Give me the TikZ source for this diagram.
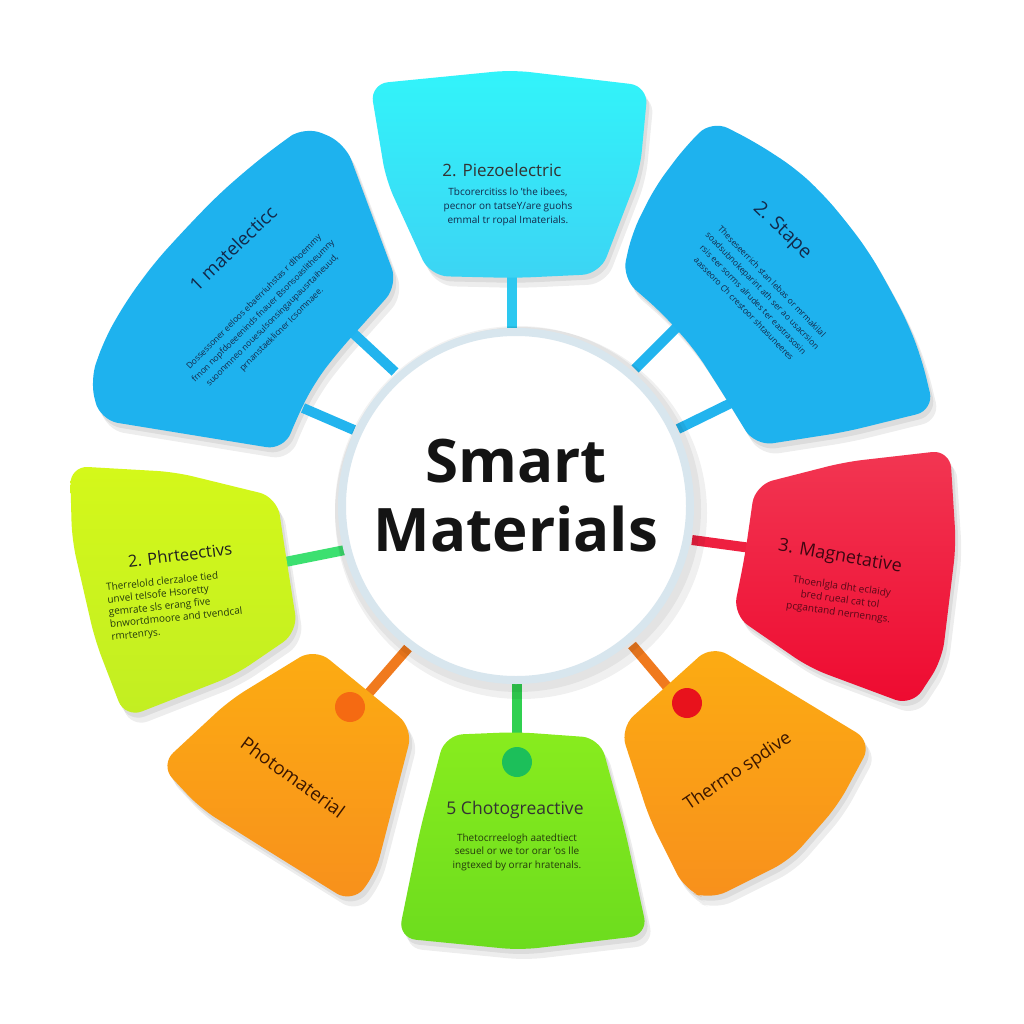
\documentclass[tikz,border=0pt]{standalone}
\usepackage{fontspec}
\setmainfont{Open Sans}
\definecolor{segblue}{HTML}{1EB2EE}
\definecolor{cyanT}{HTML}{32F4FA}
\definecolor{cyanB}{HTML}{3CD4F4}
\definecolor{limeT}{HTML}{D4F81A}
\definecolor{limeB}{HTML}{C2EE22}
\definecolor{redT}{HTML}{F23652}
\definecolor{redB}{HTML}{EE0A30}
\definecolor{orT}{HTML}{FCAC12}
\definecolor{orB}{HTML}{F8901C}
\definecolor{grT}{HTML}{88EC1E}
\definecolor{grB}{HTML}{6CDC1E}
\definecolor{hubring}{HTML}{D8E6EE}
\definecolor{barblue}{HTML}{22B4EE}
\definecolor{barcyan}{HTML}{2CC8F0}
\definecolor{bargreen}{HTML}{3CE070}
\definecolor{barred}{HTML}{EE2040}
\definecolor{barorange}{HTML}{F07A1E}
\definecolor{bargreenb}{HTML}{30D050}
\definecolor{dotor}{HTML}{F56A12}
\definecolor{dotgr}{HTML}{1CBF5A}
\definecolor{dotred}{HTML}{E8121C}
\definecolor{navy}{HTML}{13294A}
\definecolor{dkgreen}{HTML}{243A0C}
\definecolor{dkred}{HTML}{5A0818}
\definecolor{dkbrown}{HTML}{3A1600}
\tikzset{
  seg/.style={rounded corners=18pt},
  shad/.style={fill=black,opacity=0.07,rounded corners=18pt},
  bar/.style={line width=10pt},
  ttl/.style={inner sep=0pt,font=\fontsize{17}{20}\selectfont,text=black!88},
  bodytxt/.style={inner sep=0pt,align=center,font=\fontsize{9.5}{13}\selectfont},
}
\def\Apath{(100,420) -- (90,380) -- (105,338) -- (127,300) -- (155,262) -- (187,227) -- (218,195) -- (250,167) -- (278,145) -- (305,126) -- (345,143) -- (398,285) -- (365,322) -- (338,352) -- (315,382) -- (298,415) -- (284,450) -- cycle}
\def\Bpath{(370,84) -- (512,70) -- (648,86) -- (640,170) -- (600,274) -- (515,278) -- (430,276) -- (386,180) -- cycle}
\def\Cpath{(712,120) -- (755,142) -- (795,168) -- (822,193) -- (845,220) -- (869,252) -- (889,287) -- (908,323) -- (922,360) -- (934,410) -- (845,432) -- (755,446) -- (725,397) -- (695,350) -- (662,313) -- (622,278) -- (632,233) -- (655,187) -- (685,147) -- cycle}
\def\Dpath{(70,466) -- (175,472) -- (277,497) -- (285,550) -- (298,632) -- (235,675) -- (125,718) -- (95,640) -- (72,540) -- cycle}
\def\Epath{(755,485) -- (845,462) -- (950,450) -- (956,545) -- (942,660) -- (912,706) -- (810,668) -- (733,615) -- (745,555) -- cycle}
\def\Fpath{(315,648) -- (413,728) -- (375,875) -- (352,903) -- (270,852) -- (200,808) -- (160,765) -- (230,700) -- cycle}
\def\Gpath{(445,735) -- (517,732) -- (600,738) -- (625,830) -- (648,935) -- (520,950) -- (398,938) -- (420,830) -- cycle}
\def\Hpath{(620,728) -- (712,645) -- (872,742) -- (838,805) -- (790,860) -- (710,900) -- (685,890) -- (650,820) -- cycle}
\begin{document}
\begin{tikzpicture}[x=1pt,y=-1pt]
\useasboundingbox (0,0) rectangle (1024,1024);
\fill[white] (0,0) rectangle (1024,1024);
% shadows
\foreach \p in {\Apath,\Bpath,\Cpath,\Dpath,\Epath,\Fpath,\Gpath,\Hpath}{
  \fill[shad,shift={(3,5)}] \p;
  \fill[shad,shift={(6,10)}] \p;
}
% connector coordinates
\coordinate (a1s) at (353,333); \coordinate (a1e) at (395,372);
\coordinate (a2s) at (303,408); \coordinate (a2e) at (354,430);
\coordinate (bs) at (512,268); \coordinate (be) at (512,335);
\coordinate (c1s) at (635,369); \coordinate (c1e) at (677,327);
\coordinate (c2s) at (678,429); \coordinate (c2e) at (731,403);
\coordinate (ds) at (285,562); \coordinate (de) at (345,550);
\coordinate (es) at (692,540); \coordinate (ee) at (751,548);
\coordinate (fs) at (368,694); \coordinate (fe) at (408,648);
\coordinate (gs) at (517,680); \coordinate (ge) at (517,755);
\coordinate (hs) at (632,645); \coordinate (he) at (670,690);
\draw[bar,barblue] (a1s) -- (a1e);
\draw[bar,barblue] (a2s) -- (a2e);
\draw[bar,barcyan] (bs) -- (be);
\draw[bar,barblue] (c1s) -- (c1e);
\draw[bar,barblue] (c2s) -- (c2e);
\draw[bar,bargreen] (ds) -- (de);
\draw[bar,barred] (es) -- (ee);
\draw[bar,barorange] (fs) -- (fe);
\draw[bar,bargreenb] (gs) -- (ge);
\draw[bar,barorange] (hs) -- (he);
% segments
\fill[seg,segblue] \Apath;
\shade[seg,top color=cyanT,bottom color=cyanB] \Bpath;
\fill[seg,segblue] \Cpath;
\shade[seg,top color=limeT,bottom color=limeB] \Dpath;
\shade[seg,top color=redT,bottom color=redB] \Epath;
\shade[seg,top color=orT,bottom color=orB] \Fpath;
\shade[seg,top color=grT,bottom color=grB] \Gpath;
\shade[seg,top color=orT,bottom color=orB] \Hpath;
% dots
\fill[dotor] (350,707) circle[radius=15pt];
\fill[dotgr] (517,762) circle[radius=15pt];
\fill[dotred] (687,703) circle[radius=15pt];
% hub
\fill[black,opacity=0.06] (521,513) circle[radius=186pt];
\fill[black,opacity=0.05] (518,509) circle[radius=183pt];
\node (hub) [circle,minimum size=348pt,inner sep=0pt,fill=white,draw=hubring,line width=8pt] at (516,506) {};
\node (smart) [anchor=base,inner sep=0pt,font=\fontsize{60}{69}\bfseries\selectfont,text=black!92] at (516,482) {Smart};
\node (materials) [anchor=base,inner sep=0pt,font=\fontsize{60}{69}\bfseries\selectfont,text=black!92] at (516,551) {Materials};
% texts A
\node (ta) [ttl,rotate=44,text=navy,font=\fontsize{18.5}{22}\selectfont] at (233,248) {1 matelecticc};
\node (ba) [bodytxt,rotate=45,text=navy,font=\fontsize{8.5}{13}\selectfont] at (268,316) {Dossessoner eeloos ebaerriuhstas r dlhoemmy\\ frnon nopfdoeeeninds fnauer Bsonsoaslitheumny\\ suoonmneo nouesulsonsingaupausrtaiheuud,\\ prnanstaeklicner Icsomnaee.};
% texts B
\node (tb) [ttl,text=black!80] at (502,170) {2. Piezoelectric};
\node (bb) [bodytxt,text=navy,font=\fontsize{10}{14}\selectfont] at (508,207) {Tbcorercitiss lo 'the ibees,\\ pecnor on tatseY/are guohs\\ emmal tr ropal Imaterials.};
% texts C
\node (tc) [ttl,rotate=-44,text=navy,font=\fontsize{19}{22}\selectfont] at (782,231) {2. Stape};
\node (bc) [bodytxt,rotate=-46,text=navy,font=\fontsize{8.5}{13}\selectfont] at (758,295) {Theseseerrich stan lebas or mrmakilal\\ soadsubnokeparint ath ser ao usacrsion\\ rsis eer sorms alrudes ter eastrasosin\\ aasseoro Ch crestoor shtasuneeres};
% texts D
\node (td) [ttl,rotate=7,font=\fontsize{16.5}{20}\selectfont] at (180,555) {2. Phrteectivs};
\node (bd) [bodytxt,rotate=6,align=left,text=dkgreen,font=\fontsize{10}{12.5}\selectfont] at (175,606) {Therrelold clerzaloe tied\\ unvel telsofe Hsoretty\\ gemrate sls erang five\\ bnwortdmoore and tvendcal\\ rmrtenrys.};
% texts E
\node (te) [ttl,rotate=-10,text=dkred!70!black,font=\fontsize{18}{21}\selectfont] at (840,557) {3. Magnetative};
\node (be2) [bodytxt,rotate=-8,text=dkred,font=\fontsize{10}{13}\selectfont] at (840,600) {Thoenlgla dht eclaidy\\ bred rueal cat tol\\ pcgantand nernenngs.};
% texts F
\node (tf) [ttl,rotate=-36,text=dkbrown,font=\fontsize{18.5}{22}\selectfont] at (293,777) {Photomaterial};
% texts G
\node (tg) [ttl,text=black!80,font=\fontsize{17.5}{21}\selectfont] at (515,810) {5 Chotogreactive};
\node (bg) [bodytxt,text=dkgreen,font=\fontsize{10}{13.5}\selectfont] at (517,852) {Thetocrreelogh aatedtiect\\ sesuel or we tor orar 'os lle\\ ingtexed by orrar hratenals.};
% texts H
\node (th) [ttl,rotate=34,text=dkbrown,font=\fontsize{18}{22}\selectfont] at (738,772) {Thermo spdive};
\end{tikzpicture}
\end{document}
